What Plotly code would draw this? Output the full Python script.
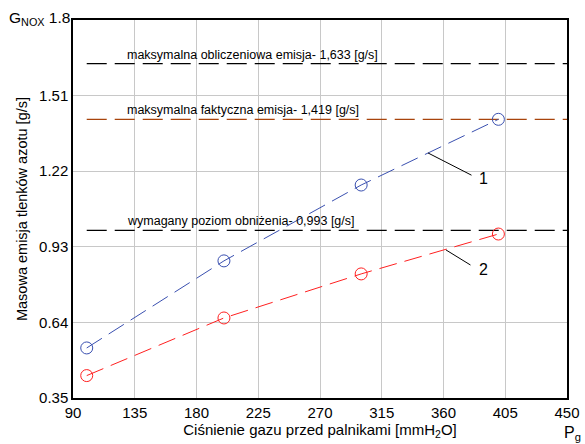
import plotly.graph_objects as go

pressure = [100, 200, 300, 400]
series1 = [0.542, 0.876, 1.167, 1.419]
series2 = [0.436, 0.657, 0.826, 0.979]
ref_levels = [1.633, 1.419, 0.993]
ref_colors = ["#000000", "#a8440c", "#000000"]
ref_labels = ["maksymalna obliczeniowa emisja- 1,633 [g/s]",
              "maksymalna faktyczna emisja- 1,419 [g/s]",
              "wymagany poziom obniżenia- 0,993 [g/s]"]
x_ticks = [90, 135, 180, 225, 270, 315, 360, 405, 450]
y_ticks = [0.35, 0.64, 0.93, 1.22, 1.51, 1.8]
y_ticktext = ["0.35", "0.64", "0.93", "1.22", "1.51", ""]

font = "Liberation Sans, Arial, sans-serif"
fig = go.Figure()

for lvl, col in zip(ref_levels, ref_colors):
    fig.add_trace(go.Scatter(x=[100, 450], y=[lvl, lvl], mode="lines",
                             line=dict(color=col, width=1.2, dash="20px,8px"),
                             showlegend=False, hoverinfo="skip"))

fig.add_trace(go.Scatter(x=pressure, y=series1, mode="lines+markers",
                         line=dict(color="#3a50b0", width=1, dash="18px,8px"),
                         marker=dict(symbol="circle-open", size=12, color="#3a50b0", line=dict(width=1)),
                         showlegend=False))
fig.add_trace(go.Scatter(x=pressure, y=series2, mode="lines+markers",
                         line=dict(color="#ff2020", width=1, dash="18px,8px"),
                         marker=dict(symbol="circle-open", size=12, color="#ff2020", line=dict(width=1)),
                         showlegend=False))

for lvl, txt in zip(ref_levels, ref_labels):
    fig.add_annotation(x=128, y=lvl, xref="x", yref="y", text=txt, showarrow=False,
                       xanchor="left", yanchor="bottom", yshift=0,
                       font=dict(family=font, size=12.5, color="#000"))

# leader labels
fig.add_annotation(x=348.7, y=1.29, xref="x", yref="y", text="", showarrow=True,
                   arrowhead=0, arrowwidth=1, arrowcolor="#000", ax=45, ay=23)
fig.add_annotation(x=348.7, y=1.29, xref="x", yref="y", text="1", showarrow=False,
                   xshift=56, yshift=-26, font=dict(family=font, size=16, color="#000"))
fig.add_annotation(x=361.8, y=0.918, xref="x", yref="y", text="", showarrow=True,
                   arrowhead=0, arrowwidth=1, arrowcolor="#000", ax=26, ay=16)
fig.add_annotation(x=361.8, y=0.918, xref="x", yref="y", text="2", showarrow=False,
                   xshift=38, yshift=-20, font=dict(family=font, size=16, color="#000"))

fig.add_annotation(x=0, y=1, xref="paper", yref="paper", text="G<sub>NOX</sub> 1.8",
                   showarrow=False, xanchor="right", yanchor="middle", xshift=-1, yshift=2,
                   font=dict(family=font, size=15.5, color="#000"))
fig.add_annotation(x=1, y=0, xref="paper", yref="paper", text="P<sub>g</sub>",
                   showarrow=False, xanchor="center", yanchor="top", xshift=5, yshift=-24,
                   font=dict(family=font, size=16, color="#000"))

fig.update_layout(
    width=585, height=444,
    margin=dict(l=73, r=18, t=20, b=46),
    plot_bgcolor="white", paper_bgcolor="white",
    font=dict(family=font, size=15, color="#000"),
    xaxis=dict(range=[90, 450], tickvals=x_ticks, showgrid=True, gridcolor="#c8c8c8",
               gridwidth=1, showline=True, linecolor="#000", linewidth=1.5, mirror=True,
               ticks="", zeroline=False, automargin=False,
               title=dict(text="Ciśnienie gazu przed palnikami [mmH<sub>2</sub>O]",
                          font=dict(size=15), standoff=5)),
    yaxis=dict(range=[0.35, 1.8], tickvals=y_ticks, ticktext=y_ticktext,
               showgrid=True, gridcolor="#c8c8c8",
               gridwidth=1, showline=True, linecolor="#000", linewidth=1.5, mirror=True,
               ticks="", zeroline=False, automargin=False,
               title=dict(text="Masowa emisja tlenków azotu [g/s]", font=dict(size=14.5), standoff=8)),
)

fig.write_html("out.html", config={"displayModeBar": False},
               post_script="document.body.style.margin='0';document.body.style.overflow='hidden';")
